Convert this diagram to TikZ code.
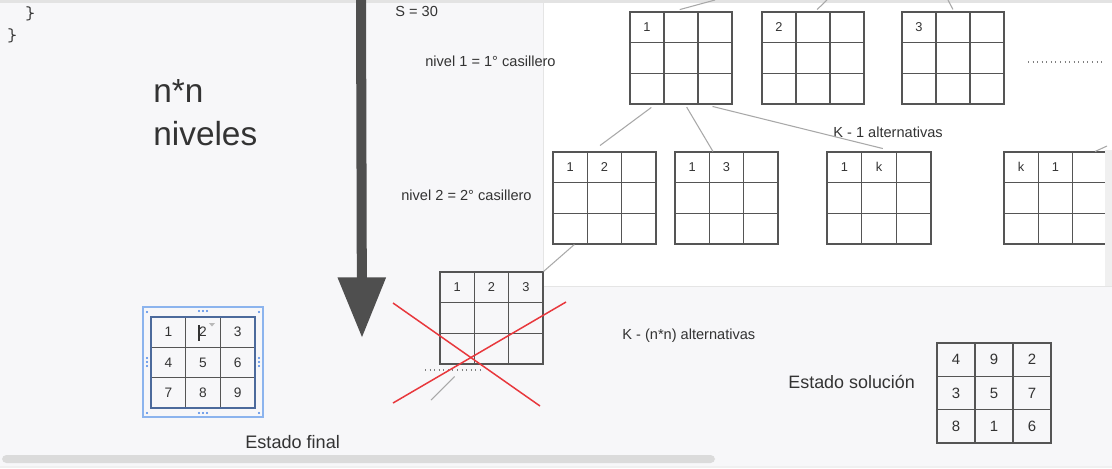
\documentclass[tikz,border=0pt]{standalone}
\usepackage{fontspec}
\setmainfont{Liberation Sans}
\usetikzlibrary{calc,arrows.meta}

\definecolor{fondo}{HTML}{F7F7F9}
\definecolor{trazo}{HTML}{555555}
\definecolor{lineagris}{HTML}{A8A8A8}
\definecolor{texto}{HTML}{333333}
\definecolor{cruz}{HTML}{E8383D}
\definecolor{seleccion}{HTML}{8CB4EE}
\definecolor{asa}{HTML}{4A86E8}
\definecolor{bordeazul}{HTML}{4C6A9C}
\definecolor{flechagris}{HTML}{4F4F4F}

\tikzset{
  tablero/.style={draw=trazo, line width=0.6pt, inner sep=0pt},
  rejilla/.style={draw=trazo, line width=0.6pt},
  cifra/.style={text=texto, font=\fontsize{7.3}{8}\selectfont, inner sep=0pt},
  etiqueta/.style={text=texto, font=\fontsize{8.3}{10}\selectfont, inner sep=0pt, anchor=base west},
  enlace/.style={draw=lineagris, line width=0.6pt},
}

% [estilo cifras]{nombre}{x}{y}{ancho}{alto}{cifras}
\newcommand{\tablero}[7][]{%
  \node[tablero, minimum width=#5*0.02cm, minimum height=#6*0.02cm] (#2) at ({#3+#5/2},{#4+#6/2}) {};
  \foreach \k in {1,2} {
    \draw[rejilla] ({#3+\k*#5/3},#4) -- ({#3+\k*#5/3},{#4+#6});
    \draw[rejilla] (#3,{#4+\k*#6/3}) -- ({#3+#5},{#4+\k*#6/3});
  }
  \foreach \v [count=\i from 0] in {#7} {
    \pgfmathtruncatemacro\fila{\i/3}
    \pgfmathtruncatemacro\col{mod(\i,3)}
    \node[cifra,#1] (#2-\i) at ({#3+(\col+0.5)*#5/3},{#4+(\fila+0.5)*#6/3}) {\v};
  }
}

\begin{document}
\begin{tikzpicture}[x=0.02cm, y=-0.02cm]
  \useasboundingbox (0,0) rectangle (1112,468);
  % fondo de la pantalla
  \fill[fondo] (0,0) rectangle (1112,468);
  \fill[white] (543,0) rectangle (1112,286);
  \draw[gray!20, line width=0.5pt] (543,0) -- (543,286) -- (1112,286);
  \fill[gray!22] (0,0) rectangle (1112,3);
  \fill[gray!28, rounded corners=2.5pt] (2,455) rectangle (715,463);
  \fill[gray!12] (0,466) rectangle (1112,468);

  % codigo
  \node[etiqueta, font=\ttfamily\fontsize{10.5}{12}\selectfont] (llave1) at (25,19) {\}};
  \node[etiqueta, font=\ttfamily\fontsize{10.5}{12}\selectfont] (llave2) at (7,41) {\}};

  % flecha de niveles
  \coordinate (flecha-ini) at (361,-2);
  \coordinate (flecha-fin) at (362,338);
  \draw[flechagris, line width=5.7pt, -{Triangle[width=26pt, length=34.5pt]}] (flecha-ini) -- (flecha-fin);

  \node[etiqueta, font=\fontsize{19}{24}\selectfont, align=left] (niveles) at (153,145) {n*n\\niveles};
  \node[etiqueta] (s30) at (395,16) {S = 30};
  \node[etiqueta] (nivel1) at (425,66) {nivel 1 = 1° casillero};
  \node[etiqueta] (nivel2) at (401,200) {nivel 2 = 2° casillero};
  \node[etiqueta] (alt1) at (833,137) {K - 1 alternativas};
  \node[etiqueta] (altn) at (622,339) {K - (n*n) alternativas};
  \node[etiqueta, font=\fontsize{10.3}{12}\selectfont] (final-txt) at (245,448) {Estado final};
  \node[etiqueta, font=\fontsize{10.2}{12}\selectfont] (solucion-txt) at (788,388) {Estado solución};

  % arbol de tableros
  \tablero{g1}{630}{12}{102}{92}{1}
  \tablero{g2}{762}{12}{102}{92}{2}
  \tablero{g3}{902}{12}{102}{92}{3}
  \tablero{g12}{553}{152}{103}{92}{1,2}
  \tablero{g13}{675}{152}{103}{92}{1,3}
  \tablero{g1k}{827}{152}{104}{92}{1,k}
  \tablero{gk1}{1004}{152}{103}{92}{k,1}
  \tablero{g123}{440}{272}{103}{92}{1,2,3}
  \fill[gray!12] (1105,150) rectangle (1112,286);

  \coordinate (c1) at (715,0);
  \coordinate (c2) at (827,0);
  \coordinate (c3) at (948,0);
  \coordinate (c4) at (1107,146);
  \coordinate (c5) at (431,400);
  \draw[enlace, shorten <=4.1pt] ($(g1.north west)!.42!(g1.north east)$) -- (c1);
  \draw[enlace, shorten <=1.6pt] ($(g2.north west)!.52!(g2.north east)$) -- (c2);
  \draw[enlace, shorten <=1.3pt] ($(g3.north west)!.51!(g3.north east)$) -- (c3);
  \draw[enlace, shorten <=2.8pt, shorten >=5.7pt] ($(g1.south west)!.25!(g1.south east)$) -- ($(g12.north west)!.38!(g12.north east)$);
  \draw[enlace, shorten <=1.7pt] ($(g1.south west)!.54!(g1.south east)$) -- ($(g13.north west)!.37!(g13.north east)$);
  \draw[enlace, shorten <=4.6pt, shorten >=7pt] ($(g1.south west)!.73!(g1.south east)$) -- ($(g1k.north west)!.65!(g1k.north east)$);
  \draw[enlace] ($(gk1.north west)!.88!(gk1.north east)$) -- (c4);
  \draw[enlace] ($(g12.south west)!.21!(g12.south east)$) -- (g123.north east);
  \draw[enlace, shorten <=9.6pt] ($(g123.south west)!.26!(g123.south east)$) -- (c5);

  \draw[gray, dotted, line width=0.6pt] (1028,62) -- (1104,62);
  \draw[gray, dotted, line width=0.6pt] (425,370) -- (480,370);

  % rama descartada
  \draw[cruz, line width=0.85pt] (393,303) -- (540,406);
  \draw[cruz, line width=0.85pt] (393,403) -- (566,302);

  % estado final (seleccionado)
  \tablero[font=\fontsize{7.8}{9}\selectfont]{final}{151}{317}{104}{91}{1,2,3,4,5,6,7,8,9}
  \draw[bordeazul, line width=0.75pt] (151,317) rectangle (255,408);
  \draw[seleccion, line width=0.6pt] (143,307) rectangle (263,417);
  \foreach \p in {(147,312),(259,312),(147,413),(259,413),
                  (199,311),(203,311),(207,311),(199,413),(203,413),(207,413),
                  (147,358),(147,362),(147,366),(259,358),(259,362),(259,366)}
    \fill[asa] \p circle[radius=0.6pt];
  \draw[texto, line width=0.6pt] (199,325) -- (199,341);
  \fill[gray!55] (209,323) -- (215,323) -- (212,326.5) -- cycle;

  % estado solucion
  \tablero[font=\fontsize{8.5}{10}\selectfont]{solucion}{937}{343}{114}{100}{4,9,2,3,5,7,8,1,6}
\end{tikzpicture}
\end{document}
